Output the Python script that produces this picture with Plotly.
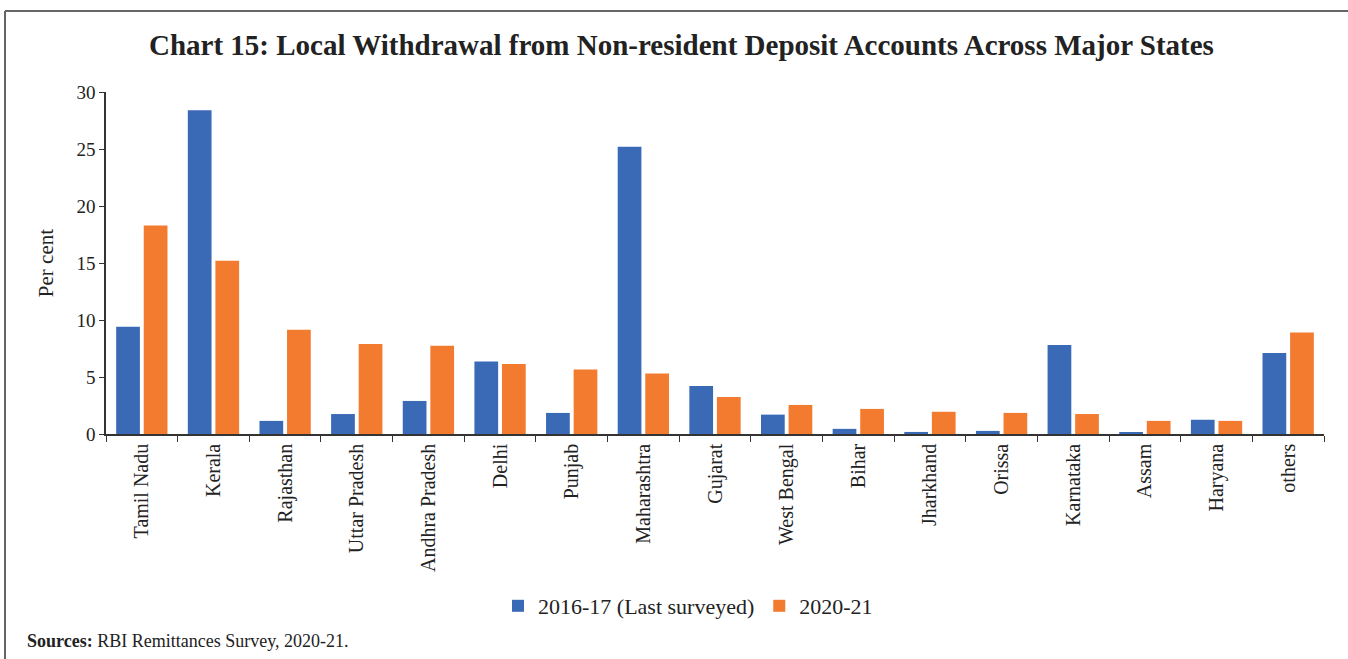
import plotly.graph_objects as go

# Local withdrawal shares by state (per cent)
states = ["Tamil Nadu", "Kerala", "Rajasthan", "Uttar Pradesh", "Andhra Pradesh",
          "Delhi", "Punjab", "Maharashtra", "Gujarat", "West Bengal", "Bihar",
          "Jharkhand", "Orissa", "Karnataka", "Assam", "Haryana", "others"]
share_2016_17 = [9.4, 28.4, 1.15, 1.75, 2.9, 6.35, 1.85, 25.2, 4.2, 1.7, 0.45,
                 0.18, 0.27, 7.8, 0.1, 1.25, 7.1]
share_2020_21 = [18.3, 15.2, 9.15, 7.9, 7.75, 6.15, 5.65, 5.3, 3.25, 2.55, 2.2,
                 1.95, 1.85, 1.75, 1.15, 1.15, 8.9]
y_ticks = [0, 5, 10, 15, 20, 25, 30]

W, H = 1348, 659
M_L, M_R, M_T, M_B = 106, 24, 92, 225
PW, PH = W - M_L - M_R, H - M_T - M_B


def px_x(x):
    return (x - M_L) / PW


def px_y(y):
    return (H - M_B - y) / PH


SERIF = "Liberation Serif, DejaVu Serif, serif"

fig = go.Figure()
fig.add_trace(go.Bar(x=states, y=share_2016_17, name="2016-17 (Last surveyed)",
                     marker=dict(color="#3a69b6", line=dict(width=0))))
fig.add_trace(go.Bar(x=states, y=share_2020_21, name="2020-21",
                     marker=dict(color="#f27b30", line=dict(width=0))))

fig.update_layout(
    width=W, height=H,
    margin=dict(l=M_L, r=M_R, t=M_T, b=M_B, autoexpand=False),
    paper_bgcolor="white", plot_bgcolor="white",
    barmode="group", bargap=0.23, bargroupgap=0.14,
    font=dict(family=SERIF, size=17, color="#222"),
    showlegend=True,
    legend=dict(orientation="h", x=px_x(688), xanchor="center", y=px_y(606), yanchor="middle",
                font=dict(family=SERIF, size=22, color="#222"),
                itemwidth=30, traceorder="normal"),
    xaxis=dict(type="category", showline=True, linecolor="#333", linewidth=1.5,
               ticks="outside", tickson="boundaries", ticklen=6, tickcolor="#333",
               tickangle=-90, tickfont=dict(family=SERIF, size=20, color="#222"),
               showgrid=False),
    yaxis=dict(range=[0, 30], tickvals=y_ticks, showline=True, linecolor="#333",
               linewidth=1.5, ticks="outside", ticklen=5, tickcolor="#333",
               showgrid=False, zeroline=False,
               tickfont=dict(family=SERIF, size=19, color="#222"),
               title=dict(text="Per cent", font=dict(family=SERIF, size=21, color="#222"),
                          standoff=17)),
)

# Title
fig.add_annotation(text="<b>Chart 15: Local Withdrawal from Non-resident Deposit Accounts Across Major States</b>",
                   xref="paper", yref="paper", x=px_x(681), y=px_y(45),
                   xanchor="center", yanchor="middle", showarrow=False,
                   font=dict(family=SERIF, size=29, color="#222"))

# Source note
fig.add_annotation(text="<b>Sources:</b> RBI Remittances Survey, 2020-21.",
                   xref="paper", yref="paper", x=px_x(25), y=px_y(641),
                   xanchor="left", yanchor="middle", showarrow=False,
                   font=dict(family=SERIF, size=18, color="#222"))

# Panel frame (top and left edges)
fig.add_shape(type="line", xref="paper", yref="paper",
              x0=px_x(5), x1=px_x(W + 5), y0=px_y(11), y1=px_y(11),
              line=dict(color="#666", width=2))
fig.add_shape(type="line", xref="paper", yref="paper",
              x0=px_x(5), x1=px_x(5), y0=px_y(11), y1=px_y(H + 5),
              line=dict(color="#666", width=2))

fig.write_html("out.html")
